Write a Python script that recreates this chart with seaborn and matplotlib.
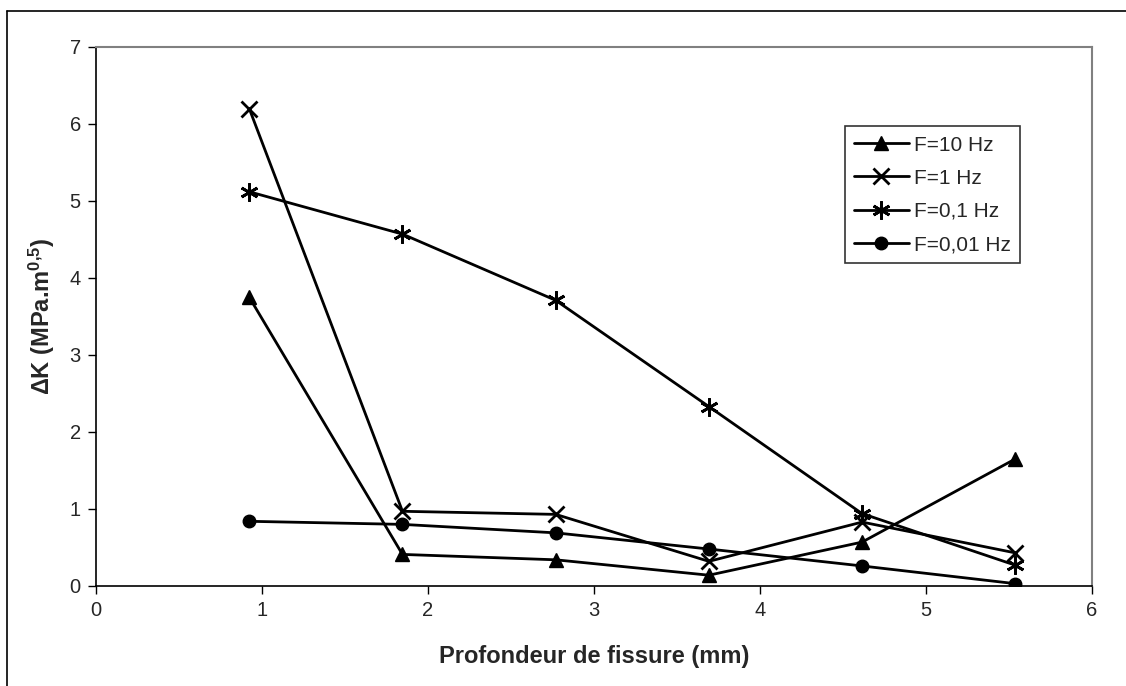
import matplotlib
matplotlib.use("Agg")
import matplotlib.pyplot as plt
from matplotlib.lines import Line2D
import seaborn as sns
import pandas as pd

depth = [0.923, 1.846, 2.769, 3.692, 4.615, 5.538]
f10 = [3.75, 0.41, 0.34, 0.14, 0.57, 1.65]
f1 = [6.20, 0.97, 0.93, 0.32, 0.83, 0.43]
f01 = [5.12, 4.57, 3.71, 2.33, 0.94, 0.27]
f001 = [0.84, 0.80, 0.69, 0.48, 0.26, 0.03]
labels = ["F=10 Hz", "F=1 Hz", "F=0,1 Hz", "F=0,01 Hz"]
markers = ["^", "x", (6, 2, 0), "o"]
sizes = [10, 11, 13, 9]

sns.set_theme(style="white")
plt.rcParams['font.family'] = ['Liberation Sans', 'DejaVu Sans']
plt.rcParams['mathtext.fontset'] = 'custom'
plt.rcParams['mathtext.rm'] = 'Liberation Sans:bold'
plt.rcParams['mathtext.bf'] = 'Liberation Sans:bold'
plt.rcParams['mathtext.it'] = 'Liberation Sans:bold'

rows = []
for lab, vals in zip(labels, [f10, f1, f01, f001]):
    for d, v in zip(depth, vals):
        rows.append({"depth": d, "dk": v, "serie": lab})
df = pd.DataFrame(rows)

fig = plt.figure(figsize=(11.26, 6.86), dpi=100)
ax = fig.add_axes([0.0853, 0.1458, 0.8845, 0.7857])

# partial outer frame (left and top edges visible in the reference)
x0 = 7.5 / 1126
y1 = 1 - 10.5 / 686
fig.add_artist(Line2D([x0, x0], [0, y1], transform=fig.transFigure, color="black", lw=1.2))
fig.add_artist(Line2D([x0, 1], [y1, y1], transform=fig.transFigure, color="black", lw=1.2))

for lab, m, s in zip(labels, markers, sizes):
    sub = df[df.serie == lab]
    sns.lineplot(data=sub, x="depth", y="dk", ax=ax, color="black", lw=2,
                 marker=m, markersize=s, markeredgewidth=2 if m in ("x", (6, 2, 0)) else 1,
                 markeredgecolor="black", markerfacecolor="black", label=lab)

ax.set_xlim(0, 6)
ax.set_ylim(0, 7)
ax.set_xticks(range(0, 7))
ax.set_yticks(range(0, 8))
ax.tick_params(axis="both", direction="out", length=6, width=1, color="black",
               labelsize=14.5, pad=5, bottom=True, left=True)
for side in ["top", "right"]:
    ax.spines[side].set_color("#808080")
    ax.spines[side].set_linewidth(1.5)
for side in ["left", "bottom"]:
    ax.spines[side].set_color("black")
    ax.spines[side].set_linewidth(1.2)

ax.set_xlabel("Profondeur de fissure (mm)", fontsize=17, fontweight="bold", labelpad=18)
ax.set_ylabel("ΔK (MPa.m$^{0{,}5}$)", fontsize=17, fontweight="bold", labelpad=9)

leg = ax.legend(loc="upper left", bbox_to_anchor=(0.752, 0.853), frameon=True, fancybox=False,
                edgecolor="black", fontsize=15, handlelength=2.6, borderpad=0.45,
                labelspacing=0.68, handletextpad=0.25, borderaxespad=0)
leg.get_frame().set_linewidth(1.2)

fig.savefig("out.png", dpi=100)
